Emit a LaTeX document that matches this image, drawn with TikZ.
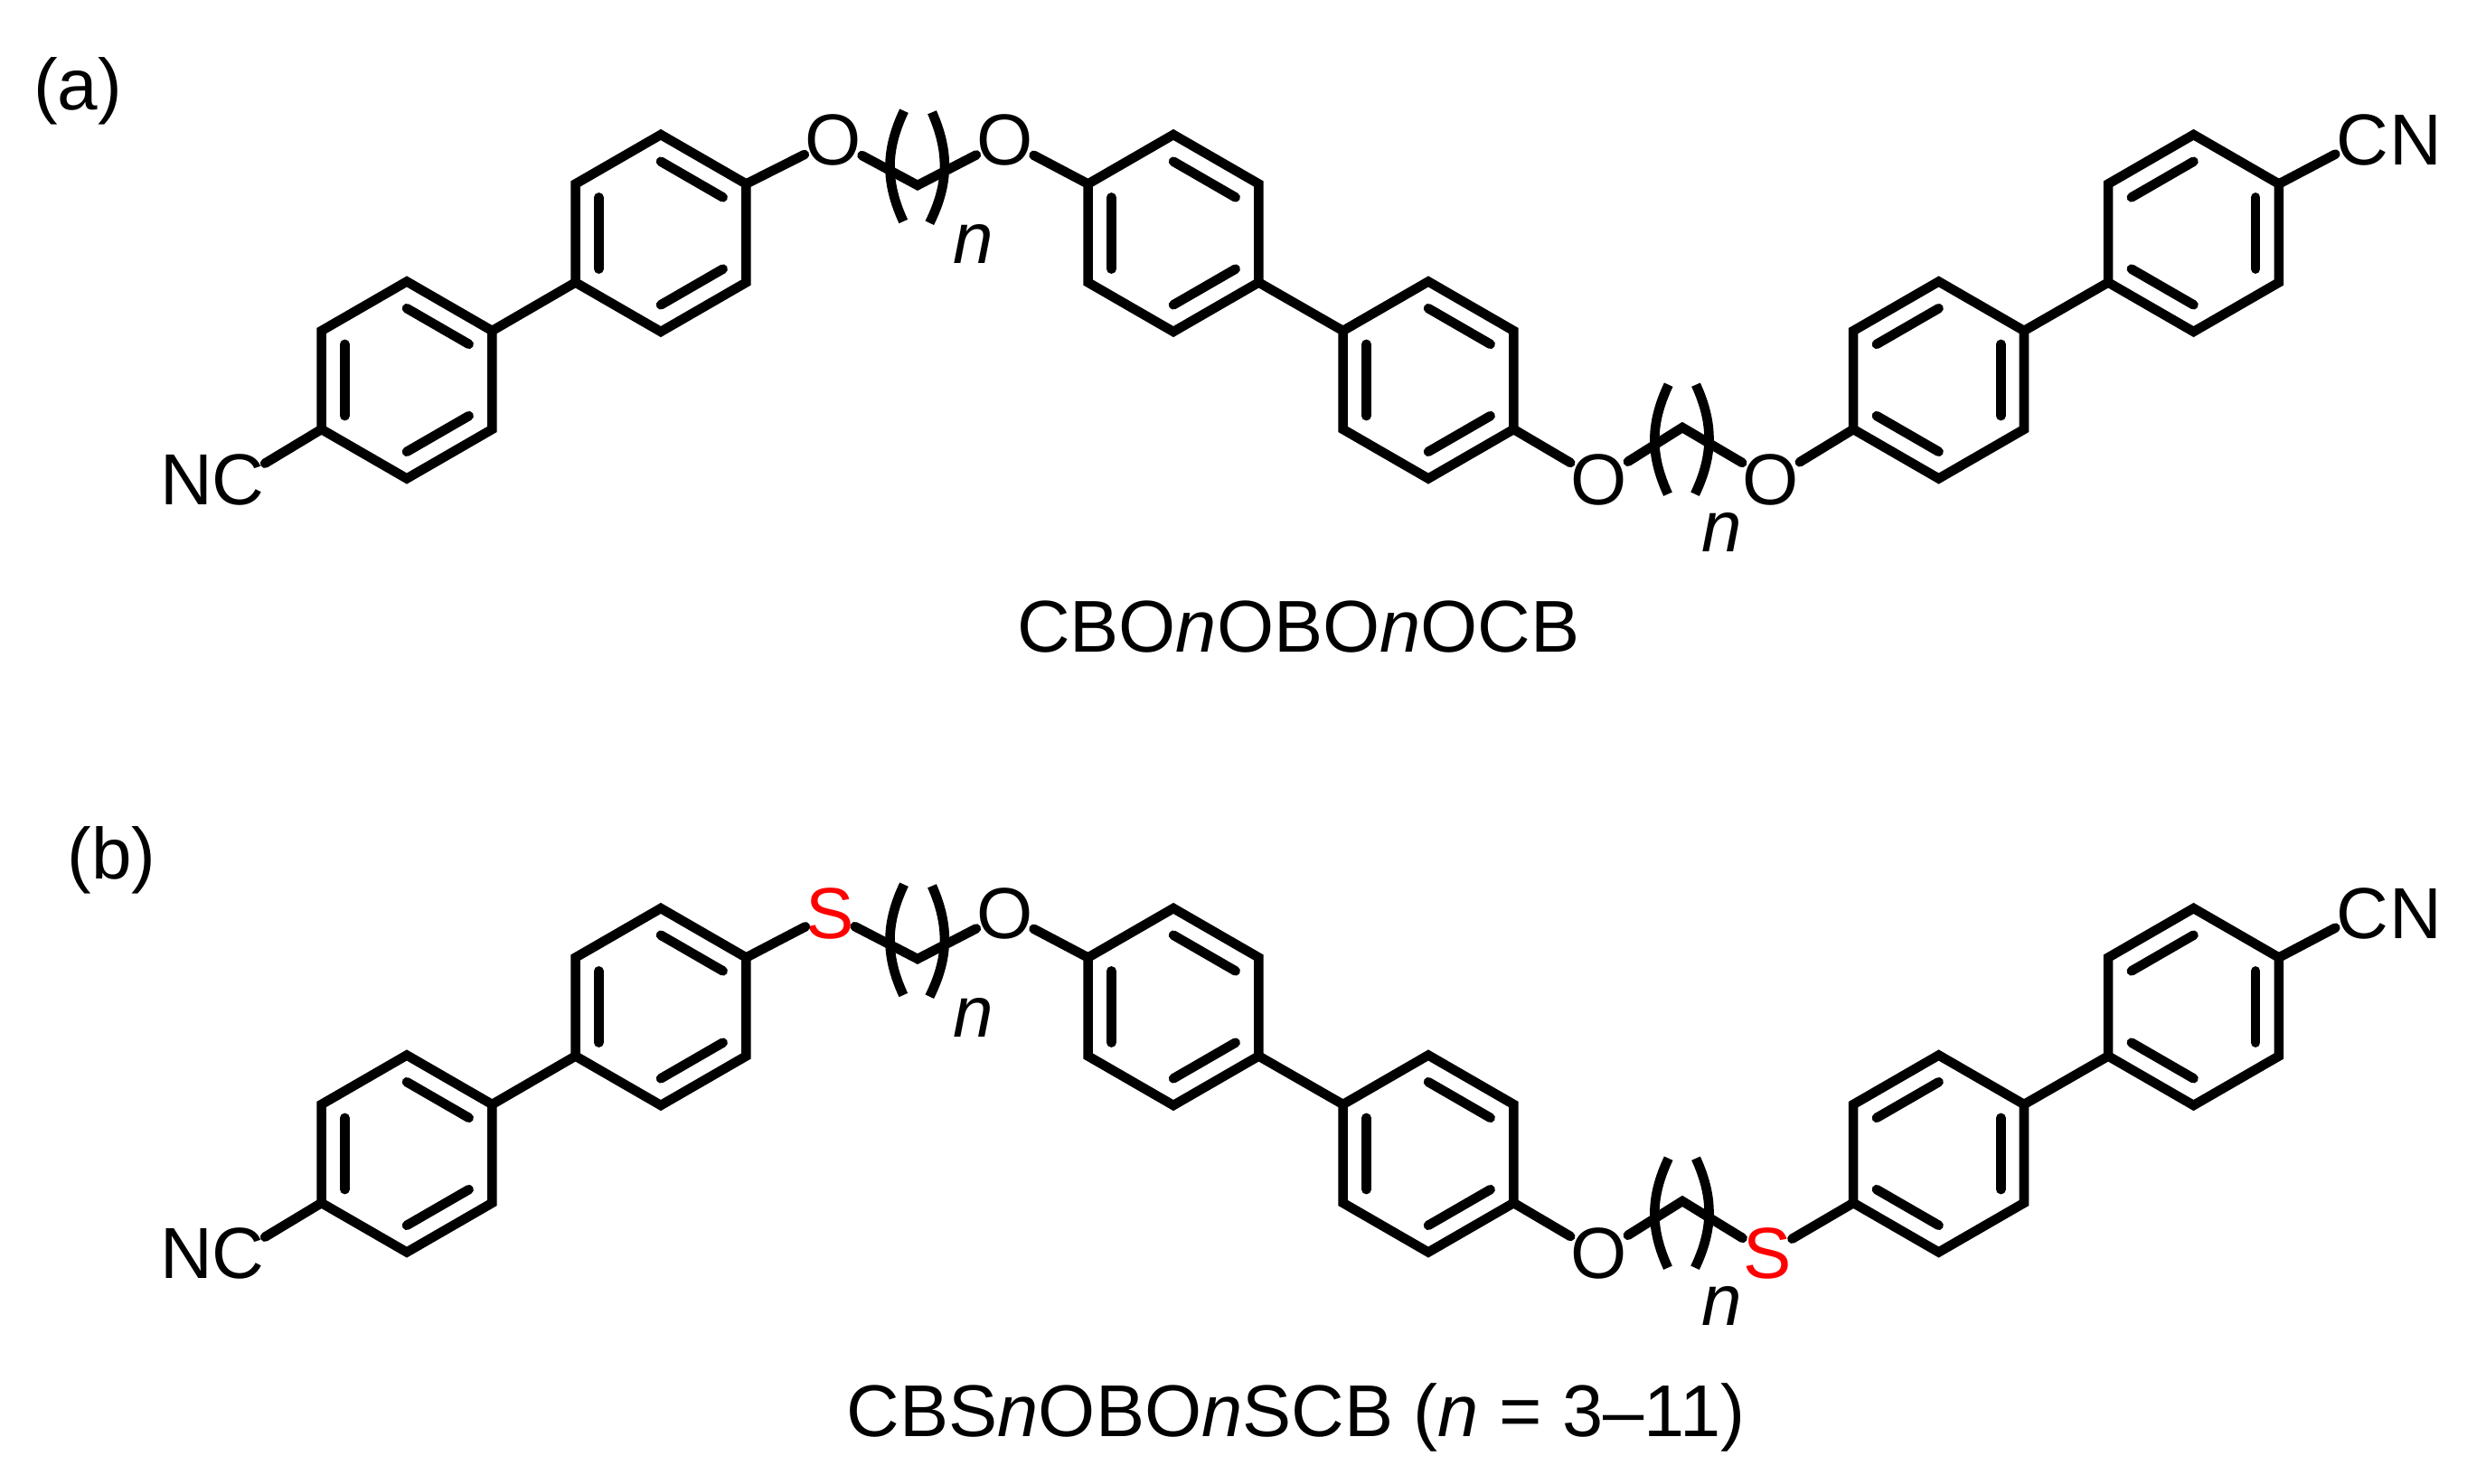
\documentclass[tikz,border=0pt]{standalone}
\usepackage{fontspec}
\setmainfont{Liberation Sans}
\usetikzlibrary{positioning,calc}

% ring: name, centre x, centre y, sides with an inner line
\newcommand{\benzring}[4]{
    \coordinate (#1) at (#2,#3);
    \foreach \vx/\ang in {1/90,2/30,3/-30,4/-90,5/-150,6/150} {
        \coordinate (#1-\vx) at ($(#1)+(\ang:1.09)$);
        \coordinate (#1-i\vx) at ($(#1)+(\ang:0.793)$);
    }
    \draw[bond] (#1-1) -- (#1-2) -- (#1-3) -- (#1-4) -- (#1-5) -- (#1-6) -- cycle;
    \foreach \p/\q in {#4}
        \draw[inner bond] (#1-i\p) -- (#1-i\q);
}

% rings, chains and brackets of one molecule: prefix, vertical offset
\newcommand{\backbone}[2]{
    \benzring{#1-r1}{4.50}{12.205+#2}{1/2,5/6,3/4}
    \benzring{#1-r2}{7.31}{13.83+#2}{1/2,5/6,3/4}
    \benzring{#1-r3}{12.98}{13.83+#2}{1/2,5/6,3/4}
    \benzring{#1-r4}{15.80}{12.205+#2}{1/2,5/6,3/4}
    \benzring{#1-r5}{21.446}{12.205+#2}{6/1,2/3,4/5}
    \benzring{#1-r6}{24.265}{13.83+#2}{6/1,2/3,4/5}

    \coordinate (#1-c1) at (10.15,14.36+#2);
    \coordinate (#1-c2) at (18.61,11.68+#2);

    \draw[bond] (#1-cl) -- (#1-r1-5);
    \draw[bond] (#1-r1-2) -- (#1-r2-5);
    \draw[bond] (#1-r2-2) -- (#1-h1);
    \draw[bond] (#1-h1) -- (#1-c1) -- (#1-h2);
    \draw[bond] (#1-h2) -- (#1-r3-6);
    \draw[bond] (#1-r3-3) -- (#1-r4-6);
    \draw[bond] (#1-r4-3) -- (#1-h3);
    \draw[bond] (#1-h3) -- (#1-c2) -- (#1-h4);
    \draw[bond] (#1-h4) -- (#1-r5-5);
    \draw[bond] (#1-r5-2) -- (#1-r6-5);
    \draw[bond] (#1-r6-2) -- (#1-cr);

    \coordinate (#1-b1) at (10.00,15.183+#2);
    \coordinate (#1-b2) at (9.993,13.96+#2);
    \coordinate (#1-b3) at (10.31,15.167+#2);
    \coordinate (#1-b4) at (10.283,13.943+#2);
    \coordinate (#1-b5) at (18.457,12.153+#2);
    \coordinate (#1-b6) at (18.45,10.943+#2);
    \coordinate (#1-b7) at (18.76,12.153+#2);
    \coordinate (#1-b8) at (18.75,10.943+#2);
    \draw[paren] (#1-b1) to[bend right=25] (#1-b2);
    \draw[paren] (#1-b3) to[bend left=25] (#1-b4);
    \draw[paren] (#1-b5) to[bend right=25] (#1-b6);
    \draw[paren] (#1-b7) to[bend left=25] (#1-b8);

    \node (#1-n1) at (10.767,13.71+#2) {\textit{n}};
    \node (#1-n2) at (19.05,10.517+#2) {\textit{n}};
}

\begin{document}
\begin{tikzpicture}[every node/.style={inner sep=0pt, font=\fontsize{22.76}{27}\selectfont}]
    \tikzstyle{bond}=[line width=3pt, line cap=round, line join=miter]
    \tikzstyle{inner bond}=[line width=3pt, line cap=round]
    \tikzstyle{paren}=[line width=3pt, line cap=butt]
    \tikzstyle{sulfur}=[text=red]
    \tikzstyle{title}=[anchor=base, font=\fontsize{23.1}{28}\selectfont]

    \useasboundingbox (0,0) rectangle (27.5,16.41);

    % (a)
    \node[anchor=base] (a-tag) at (0.86,15.19) {(a)};
    \node (a-cl) at (2.635,11.105) {C};
    \node[left=-0.02cm of a-cl] (a-nl) {N};
    \node (a-cr) at (26.13,14.86) {C};
    \node[right=0pt of a-cr] (a-nr) {N};
    \node (a-h1) at (9.217,14.86) {O};
    \node (a-h2) at (11.117,14.86) {O};
    \node (a-h3) at (17.69,11.103) {O};
    \node (a-h4) at (19.59,11.103) {O};
    \backbone{a}{0}
    \node[title] (a-name) at (14.363,9.195) {CBO\textit{n}OBO\textit{n}OCB};

    % (b)
    \node[anchor=base] (b-tag) at (1.235,6.69) {(b)};
    \node (b-cl) at (2.635,2.545) {C};
    \node[left=-0.02cm of b-cl] (b-nl) {N};
    \node (b-cr) at (26.13,6.30) {C};
    \node[right=0pt of b-cr] (b-nr) {N};
    \node[sulfur] (b-h1) at (9.183,6.30) {S};
    \node (b-h2) at (11.117,6.30) {O};
    \node (b-h3) at (17.69,2.543) {O};
    \node[sulfur] (b-h4) at (19.55,2.543) {S};
    \backbone{b}{-8.56}
    \node[title] (b-name) at (14.335,0.52) {CBS\textit{n}OBO\textit{n}SCB (\textit{n} = 3–11)};
\end{tikzpicture}
\end{document}
